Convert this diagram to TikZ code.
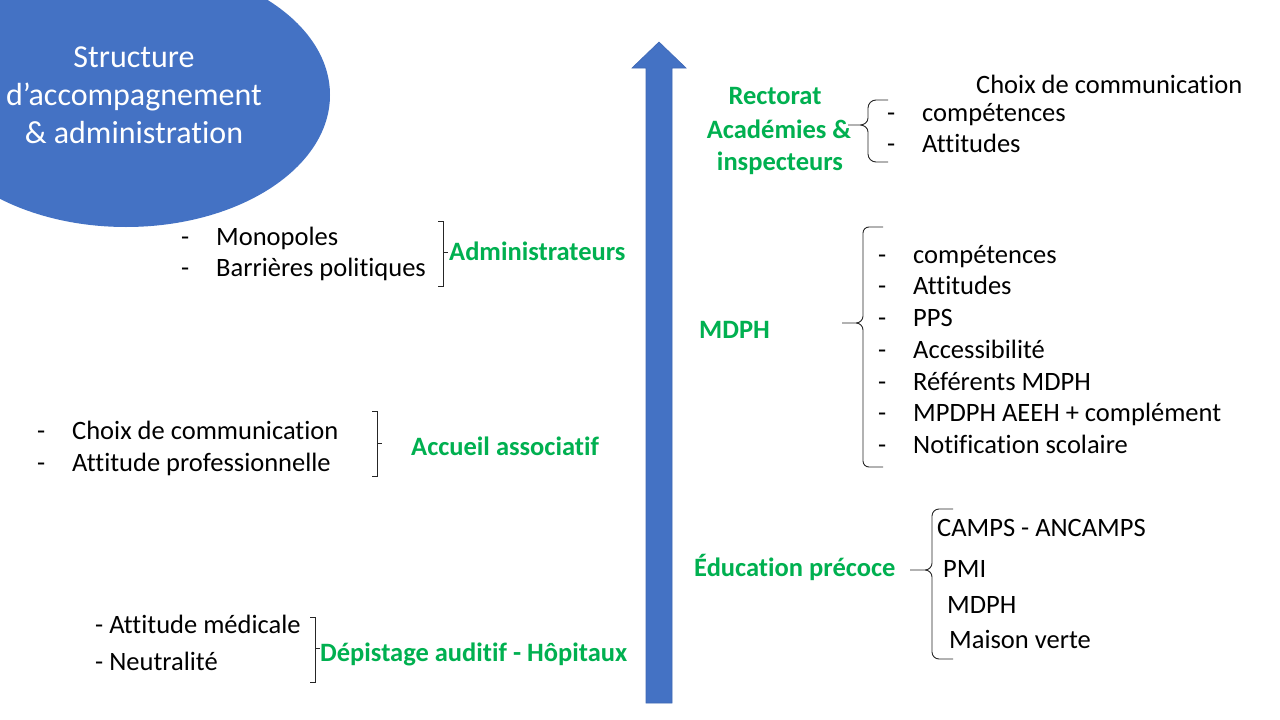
\documentclass[tikz,border=0pt]{standalone}
\usepackage{fontspec}
\setmainfont{Carlito}[Ligatures={NoCommon,NoRare}]
\definecolor{oblue}{HTML}{4472C4}
\definecolor{oedge}{HTML}{3F68B5}
\definecolor{ogreen}{HTML}{00B050}
\tikzset{
  txt/.style={inner sep=0pt, anchor=west, font=\fontsize{26.5}{32}\selectfont, text height=17.5pt, text depth=0pt},
  lab/.style={txt, font=\fontsize{26.5}{32}\selectfont\bfseries, text=ogreen},
  labc/.style={lab, anchor=center},
  etxt/.style={inner sep=0pt, anchor=center, text=white, font=\fontsize{32}{38}\selectfont, text height=21pt, text depth=0pt},
  brk/.style={draw=black!85, line width=0.9pt},
}
\begin{document}
\begin{tikzpicture}[x=1pt,y=-1pt]
\useasboundingbox (0,0) rectangle (1280,720);
\fill[white] (0,0) rectangle (1280,720);
% ellipse
\begin{scope}
\clip (0,0) rectangle (1280,720);
\fill[oblue] (126,95) ellipse [x radius=204, y radius=132];
\end{scope}
\node[etxt] (e1) at (134,57) {Structure};
\node[etxt] (e2) at (134,95) {d’accompagnement};
\node[etxt] (e3) at (134,133) {\& administration};
% arrow
\fill[oblue, draw=oedge, line width=0.6pt] (646,703) -- (646,68) -- (632,68) -- (659,42) -- (686,68) -- (672,68) -- (672,703) -- cycle;
% Administrateurs
\node[txt] (d1) at (181,237) {-};
\node[txt] (t1) at (216,237) {Monopoles};
\node[txt] (d2) at (181,268) {-};
\node[txt] (t2) at (216,268) {Barrières politiques};
\draw[brk] (438,221) -- (443,221) -- (443,286) -- (438,286);
\draw[brk] (443,252) -- (448,252);
\node[lab] (admin) at (449,252) {Administrateurs};
% Accueil associatif
\node[txt] (d3) at (37,431) {-};
\node[txt] (t3) at (72,431) {Choix de communication};
\node[txt] (d4) at (37,463) {-};
\node[txt] (t4) at (72,463) {Attitude professionnelle};
\draw[brk] (372,411) -- (377,411) -- (377,476) -- (372,476);
\draw[brk] (377,443) -- (382,443);
\node[lab] (accueil) at (411,447) {Accueil associatif};
% Depistage
\node[txt] (t5) at (95,625) {- Attitude médicale};
\node[txt] (t6) at (95,662) {- Neutralité};
\draw[brk] (310,617) -- (315,617) -- (315,682) -- (310,682);
\draw[brk] (315,648) -- (320,648);
\node[lab] (depist) at (320,653) {Dépistage auditif - Hôpitaux};
% Rectorat
\node[labc] (r1) at (775,96) {Rectorat};
\node[labc] (r2) at (779,130) {Académies \&};
\node[labc] (r3) at (780,162) {inspecteurs};
\draw[brk] (888,100) -- (876,100) to[out=180,in=90] (868,108) -- (868,118) to[out=-90,in=0] (860,125) -- (848,125)
  -- (860,125) to[out=0,in=90] (868,132) -- (868,154) to[out=-90,in=180] (876,162) -- (888,162);
\node[txt] (c0) at (976,85) {Choix de communication};
\node[txt] (d7) at (887,113) {-};
\node[txt] (c1) at (922,113) {compétences};
\node[txt] (d8) at (887,144) {-};
\node[txt] (c2) at (922,144) {Attitudes};
% MDPH
\node[lab] (mdph) at (699,330) {MDPH};
\draw[brk] (883,227) -- (869,227) to[out=180,in=90] (863,233) -- (863,316) to[out=-90,in=0] (856,323) -- (842,323)
  -- (856,323) to[out=0,in=90] (863,330) -- (863,461) to[out=-90,in=180] (869,467) -- (883,467);
\foreach \y/\t [count=\i] in {255/compétences, 286/Attitudes, 318/PPS, 350/Accessibilité, 382/Référents MDPH, 413/MPDPH AEEH + complément, 445/Notification scolaire}{
  \node[txt] (md\i) at (878,\y) {-};
  \node[txt] (m\i) at (913,\y) {\t};
}
% Education precoce
\node[lab] (edu) at (694,568) {Éducation précoce};
\draw[brk] (953,509) -- (939,509) to[out=180,in=90] (932,516) -- (932,563) to[out=-90,in=0] (925,570) -- (910,570)
  -- (925,570) to[out=0,in=90] (932,577) -- (932,652) to[out=-90,in=180] (939,659) -- (953,659);
\node[txt] (p1) at (937,528) {CAMPS - ANCAMPS};
\node[txt] (p2) at (943,569) {PMI};
\node[txt] (p3) at (947,605) {MDPH};
\node[txt] (p4) at (949,640) {Maison verte};
\end{tikzpicture}
\end{document}
